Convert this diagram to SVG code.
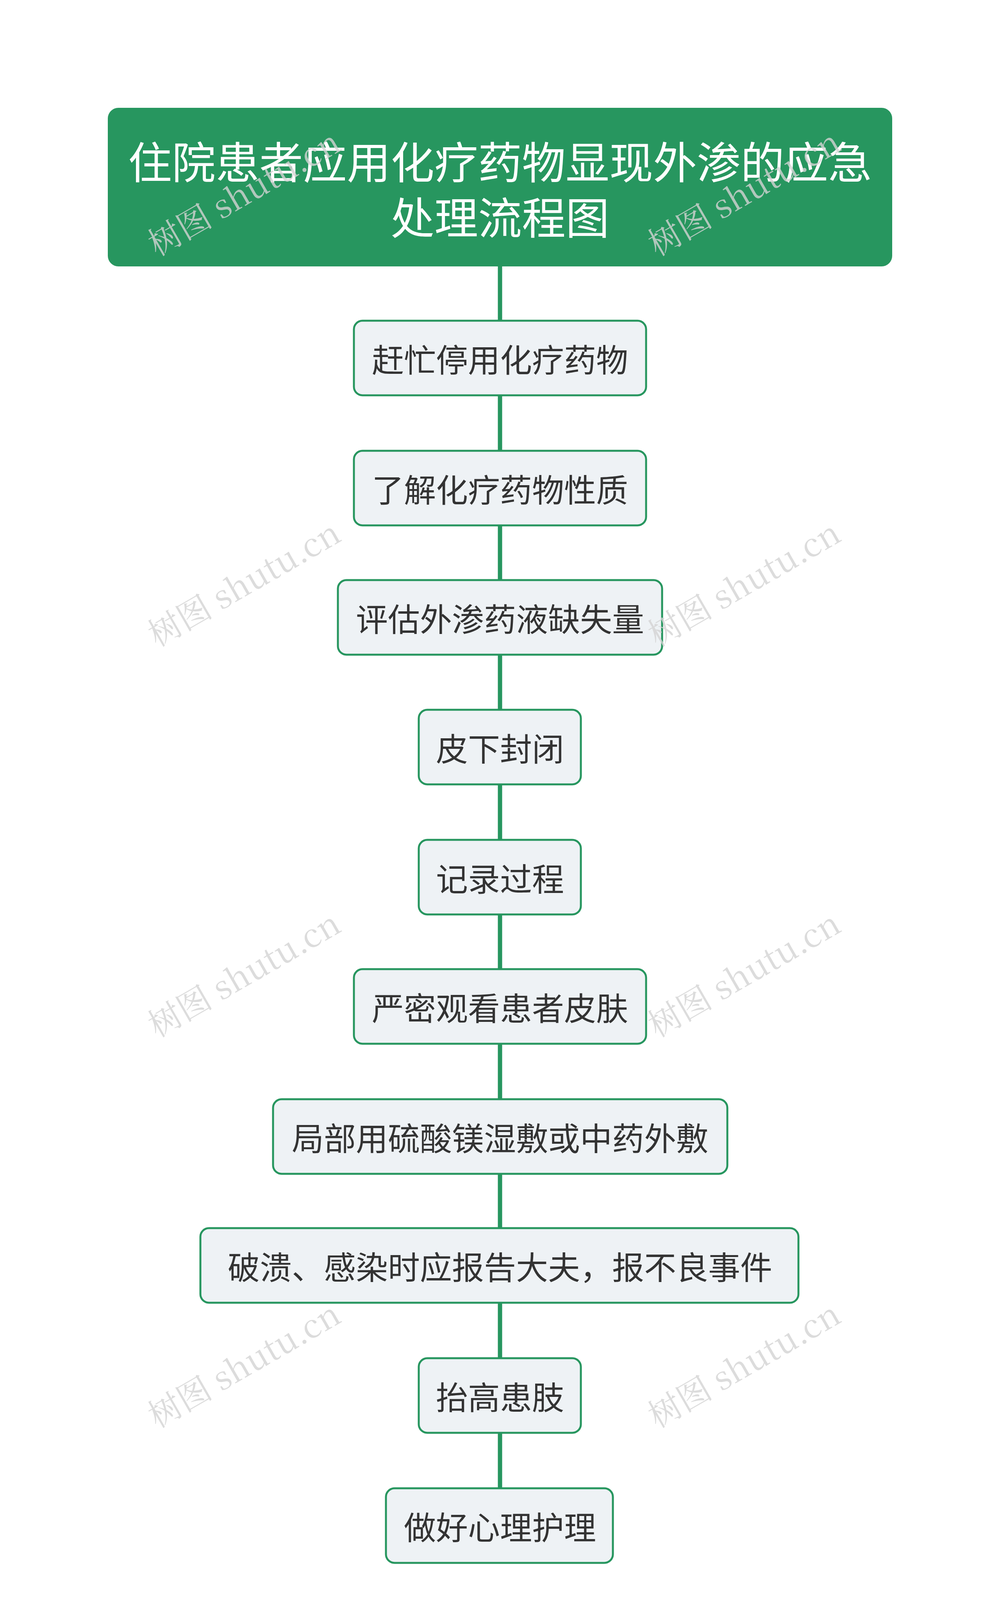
<svg xmlns="http://www.w3.org/2000/svg" width="2560" height="4281" viewBox="0 0 2560 4281">
<style>
.n rect{fill:#eef2f5;stroke:#27965f;stroke-width:5}
.n text{font-family:"Noto Sans CJK SC","Noto Sans",sans-serif;font-size:82px;fill:#333;text-anchor:middle;dominant-baseline:central}
.t text{font-family:"Noto Sans CJK SC","Noto Sans",sans-serif;font-size:112px;fill:#fff;text-anchor:middle;dominant-baseline:central}
.w{font-family:"Noto Serif CJK SC","Liberation Serif","Noto Sans CJK SC",serif;font-size:84px;fill:#d4d4d4;opacity:0.8;text-anchor:middle}
</style>
<rect width="2560" height="4281" fill="#fff"/>
<g id="connectors" stroke="#27965f" stroke-width="11">
<line x1="1280" y1="682" x2="1280" y2="3810"/>
</g>
<g id="title" class="t"><rect x="276" y="276" width="2008" height="406" rx="27" fill="#27965f"/>
<text x="1280" y="409">住院患者应用化疗药物显现外渗的应急</text><text x="1280" y="551">处理流程图</text></g>
<g id="n1" class="n"><rect x="906" y="821" width="748" height="191" rx="22"/><text x="1280" y="916">赶忙停用化疗药物</text></g>
<g id="n2" class="n"><rect x="906" y="1154" width="748" height="191" rx="22"/><text x="1280" y="1249">了解化疗药物性质</text></g>
<g id="n3" class="n"><rect x="865" y="1485" width="830" height="191" rx="22"/><text x="1280" y="1580">评估外渗药液缺失量</text></g>
<g id="n4" class="n"><rect x="1072" y="1817" width="415" height="191" rx="22"/><text x="1280" y="1912">皮下封闭</text></g>
<g id="n5" class="n"><rect x="1072" y="2150" width="415" height="191" rx="22"/><text x="1280" y="2245">记录过程</text></g>
<g id="n6" class="n"><rect x="906" y="2481" width="748" height="191" rx="22"/><text x="1280" y="2576">严密观看患者皮肤</text></g>
<g id="n7" class="n"><rect x="699" y="2814" width="1163" height="191" rx="22"/><text x="1280" y="2909">局部用硫酸镁湿敷或中药外敷</text></g>
<g id="n8" class="n"><rect x="513" y="3144" width="1531" height="191" rx="22"/><text x="1280" y="3239">破溃、感染时应报告大夫，报不良事件 </text></g>
<g id="n9" class="n"><rect x="1072" y="3477" width="415" height="191" rx="22"/><text x="1280" y="3572">抬高患肢</text></g>
<g id="n10" class="n"><rect x="988" y="3810" width="581" height="191" rx="22"/><text x="1280" y="3905">做好心理护理</text></g>
<g id="watermarks">
<text class="w" transform="translate(640,520) rotate(-30)">树图 shutu.cn</text>
<text class="w" transform="translate(1920,520) rotate(-30)">树图 shutu.cn</text>
<text class="w" transform="translate(640,1520) rotate(-30)">树图 shutu.cn</text>
<text class="w" transform="translate(1920,1520) rotate(-30)">树图 shutu.cn</text>
<text class="w" transform="translate(640,2520) rotate(-30)">树图 shutu.cn</text>
<text class="w" transform="translate(1920,2520) rotate(-30)">树图 shutu.cn</text>
<text class="w" transform="translate(640,3520) rotate(-30)">树图 shutu.cn</text>
<text class="w" transform="translate(1920,3520) rotate(-30)">树图 shutu.cn</text>
</g>
</svg>
